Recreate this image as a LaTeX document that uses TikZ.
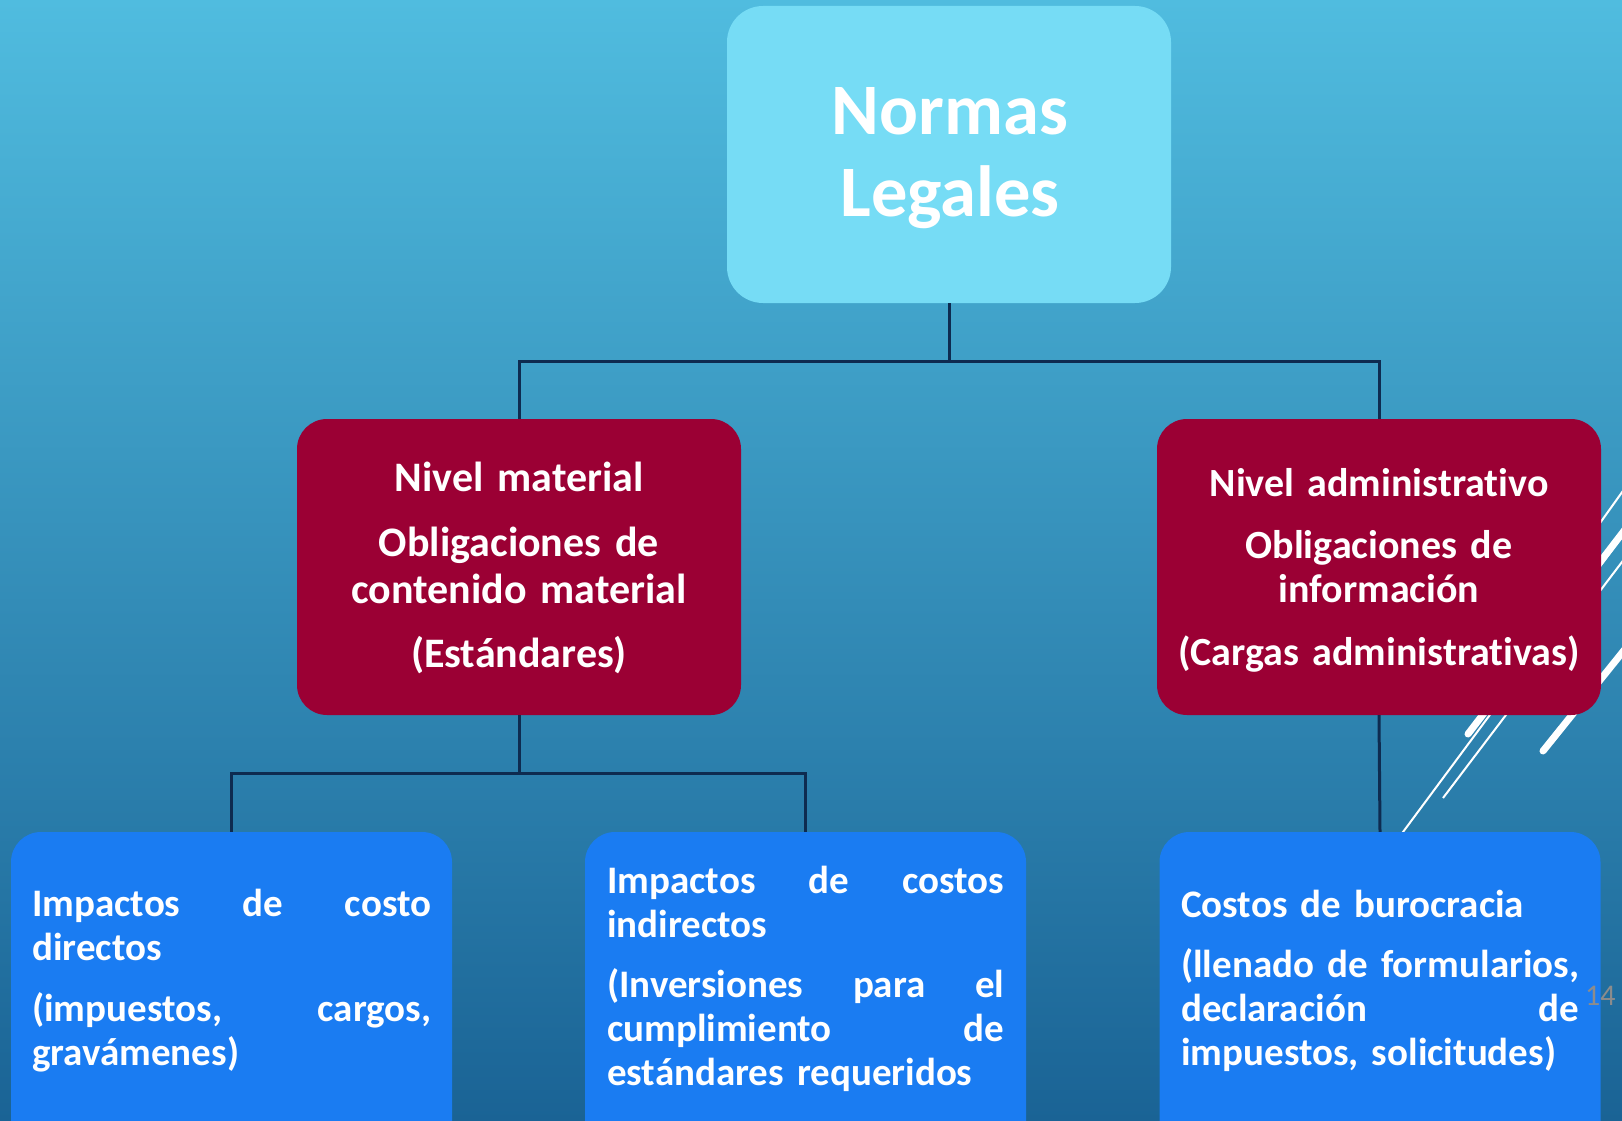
\documentclass[tikz,border=0pt]{standalone}
\usepackage{fontspec}
\setmainfont{Carlito}[Ligatures={NoCommon}]
\newcommand{\nolig}{\kern0pt }
\definecolor{bgtop}{HTML}{50BCDF}
\definecolor{bgmid}{HTML}{3697C4}
\definecolor{bgbot}{HTML}{1A6395}
\definecolor{topfill}{HTML}{76DCF5}
\definecolor{redfill}{HTML}{9B0034}
\definecolor{bluefill}{HTML}{1A7CF2}
\definecolor{connc}{HTML}{0E2B50}
\definecolor{pagec}{HTML}{8C8C8C}
\begin{document}
\begin{tikzpicture}[x=1pt,y=-1pt,
  boxbase/.style={draw=none, inner sep=0pt, rounded corners=30pt},
  topbox/.style={boxbase, fill=topfill, minimum width=444pt, minimum height=297pt, rounded corners=36pt},
  redbox/.style={boxbase, fill=redfill, minimum width=444pt, minimum height=296pt},
  bluebox/.style={boxbase, fill=bluefill, minimum width=441pt, minimum height=338pt},
  titletext/.style={inner sep=0pt, text=white, align=center, text width=440pt, anchor=base, font=\bfseries\fontsize{72.5}{82}\selectfont},
  redtext/.style={inner sep=0pt, text=white, align=center, text width=440pt, anchor=base},
  bluetext/.style={inner sep=0pt, text=white, align=left, anchor=base west, font=\bfseries\fontsize{39}{44}\selectfont},
  conn/.style={draw=connc, line width=3pt},
  deco/.style={draw=white, line width=2pt},
  decothick/.style={draw=white, line width=7pt, line cap=round},
  pagenum/.style={inner sep=0pt, text=pagec, anchor=base west, font=\fontsize{30}{36}\selectfont}
]
\useasboundingbox (0,0) rectangle (1622,1121);
\clip (0,0) rectangle (1622,1121);
\shade[top color=bgtop, middle color=bgmid, bottom color=bgbot] (0,0) rectangle (1622,1121);

% decorative lines
\draw[deco] (1380,863) -- (1650,499);
\draw[deco] (1443,798) -- (1650,525);
\draw[decothick] (1468,734) -- (1650,497);
\draw[decothick] (1543,751) -- (1650,618);
\draw[deco] (1560,579) -- (1650,453);

% boxes
\node[topbox] (top) at (949,154.5) {};
\node[redbox] (red1) at (519,567) {};
\node[redbox] (red2) at (1379,567) {};
\node[bluebox] (blue1) at (231.5,1001) {};
\node[bluebox] (blue2) at (805.5,1001) {};
\node[bluebox] (blue3) at (1380,1001) {};

% texts
\node[titletext] (toptext) at (950,135) {Normas\\Legales};
\node[redtext, font=\bfseries\fontsize{42}{47}\selectfont] (red1text) at (519,491)
  {Nivel material\\[18pt]Obligaciones de\\contenido material\\[17pt](Estándares)};
\node[redtext, font=\bfseries\fontsize{40}{44}\selectfont] (red2text) at (1379,496)
  {Nivel administrat\nolig ivo\\[18pt]Obligaciones de\\información\\[19pt](Cargas administrat\nolig ivas)};
\node[bluetext, text width=399pt] (blue1text) at (32,916)
  {\makebox[\linewidth][s]{Impactos\hfill de\hfill costo}\\directos\\[17pt]\makebox[\linewidth][s]{(impuestos,\hfill cargos,}\\gravámenes)};
\node[bluetext, text width=397pt] (blue2text) at (607,893)
  {\makebox[\linewidth][s]{Impactos\hfill de\hfill costos}\\indirectos\\[16pt]\makebox[\linewidth][s]{(Inversiones\hfill para\hfill el}\\\makebox[\linewidth][s]{cumplimiento\hfill de}\\estándares requeridos};
\node[bluetext, text width=398pt] (blue3text) at (1181,917)
  {Costos de burocracia\\[16pt]\makebox[\linewidth][s]{(llenado\hfill de\hfill formularios,}\\\makebox[\linewidth][s]{declaración\hfill de}\\impuestos, solicitudes)};
\node[pagenum] (page) at (1585,1005) {14};

% connectors
\coordinate (j1) at (949,361);
\coordinate (j2) at (519,773);
\draw[conn] (top.south) -- (j1);
\draw[conn] (red1.north) |- (j1) -| (red2.north);
\draw[conn] (red1.south) -- (j2);
\draw[conn] (blue1.north) |- (j2) -| (blue2.north);
\draw[conn] (red2.south) -- (blue3.north);
\end{tikzpicture}
\end{document}
